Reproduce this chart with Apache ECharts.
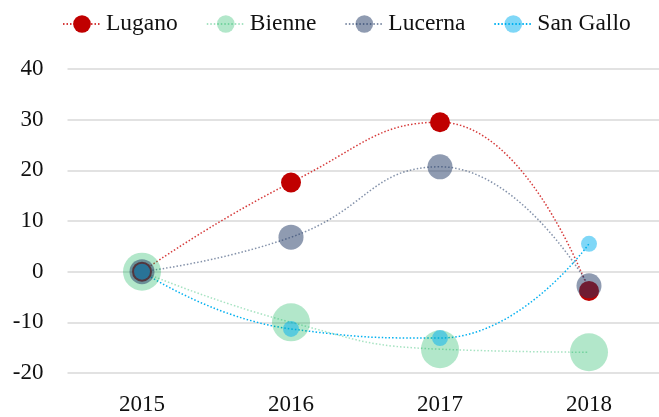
<!DOCTYPE html>
<html>
<head>
<meta charset="utf-8">
<script src="https://cdn.jsdelivr.net/npm/echarts@6/dist/echarts.min.js"></script>
<style>
html,body{margin:0;padding:0;background:#fff;overflow:hidden;width:659px;height:417px;}
#chart{width:664px;height:417px;}
</style>
</head>
<body>
<div id="chart"></div>
<script>
const years = ['2015', '2016', '2017', '2018'];
const lugano = [0, 17.6, 29.5, -3.8];
const bienne = [0, -10.0, -15.3, -15.9];
const lucerna = [0, 6.8, 20.7, -2.8];
const sanGallo = [0, -11.3, -13.1, 5.5];
const seriesNames = ['Lugano', 'Bienne', 'Lucerna', 'San Gallo'];

const FONT = '"Liberation Serif", "DejaVu Serif", serif';

function mk(name, data, color, lineColor, size) {
  return {
    name: name,
    type: 'line',
    data: data,
    smooth: 0.5,
    symbol: 'circle',
    symbolSize: size,
    showSymbol: true,
    itemStyle: { color: color, borderWidth: 0 },
    lineStyle: { color: lineColor, width: 1.5, type: [1.5, 2] },
    emphasis: { disabled: true },
    z: 2
  };
}

const chart = echarts.init(document.getElementById('chart'), null, { renderer: 'canvas' });
chart.setOption({
  animation: false,
  backgroundColor: '#ffffff',
  textStyle: { fontFamily: FONT },
  legend: {
    top: 7,
    left: 57,
    itemWidth: 38,
    itemHeight: 22,
    itemGap: 28,
    textStyle: { fontFamily: FONT, fontSize: 23.5, color: '#111' },
    data: seriesNames
  },
  grid: { left: 67.5, right: 0.5, top: 69, bottom: 44, containLabel: false },
  xAxis: {
    type: 'category',
    data: years,
    boundaryGap: true,
    axisLine: { show: false },
    axisTick: { show: false },
    axisLabel: { fontFamily: FONT, fontSize: 23, color: '#111', margin: 20 },
    splitLine: { show: false }
  },
  yAxis: {
    type: 'value',
    min: -20,
    max: 40,
    interval: 10,
    axisLine: { show: false },
    axisTick: { show: false },
    axisLabel: { fontFamily: FONT, fontSize: 23, color: '#111', margin: 24 },
    splitLine: { lineStyle: { color: '#d9d9d9', width: 1.5 } }
  },
  series: [
    mk(seriesNames[0], lugano, '#c00000', '#d63a3a', 20),
    mk(seriesNames[1], bienne, 'rgba(0,176,80,0.3)', 'rgba(0,176,80,0.35)', 38),
    mk(seriesNames[2], lucerna, 'rgba(31,56,100,0.5)', 'rgba(31,56,100,0.55)', 25),
    mk(seriesNames[3], sanGallo, 'rgba(0,176,240,0.5)', '#00b0f0', 16)
  ]
});
</script>
</body>
</html>
